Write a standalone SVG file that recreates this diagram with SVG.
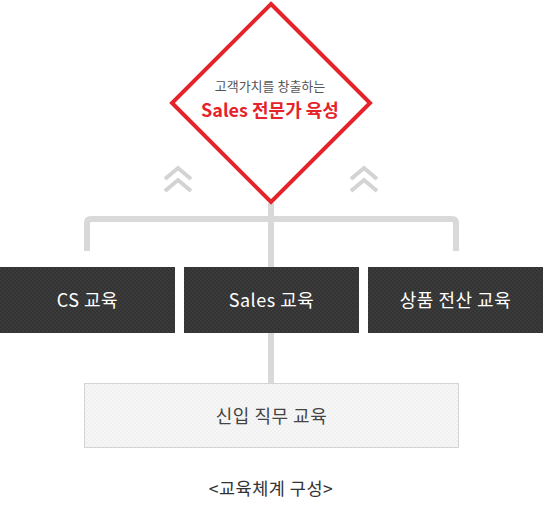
<svg xmlns="http://www.w3.org/2000/svg" width="543" height="524" viewBox="0 0 543 524">
<style>
.conn{stroke:#d9d9d9;stroke-width:6;fill:none}
.chev{stroke:#d3d3d3;stroke-width:4;fill:none;stroke-linejoin:miter}
.dark{fill:url(#darkPat)}
.wt{font-family:"Noto Sans CJK KR","Noto Sans",sans-serif;font-size:18px;letter-spacing:0.5px;fill:#ffffff;text-anchor:middle}
.gt{font-family:"Noto Sans CJK KR","Noto Sans",sans-serif;text-anchor:middle}
</style>
<defs>
<pattern id="darkPat" width="4" height="4" patternUnits="userSpaceOnUse">
<rect width="4" height="4" fill="#333333"/>
<rect width="2" height="2" fill="#3b3b3b"/>
<rect x="2" y="2" width="2" height="2" fill="#3b3b3b"/>
</pattern>
<pattern id="lightPat" width="4" height="4" patternUnits="userSpaceOnUse">
<rect width="4" height="4" fill="#f7f7f7"/>
<rect width="2" height="2" fill="#f0f0f0"/>
<rect x="2" y="2" width="2" height="2" fill="#f0f0f0"/>
</pattern>
</defs>
<g id="connectors">
<path class="conn" d="M271,203 V384"/>
<path class="conn" d="M87,251 V223 Q87,219 91,219 H452 Q456,219 456,223 V251"/>
<polyline class="chev" points="165,179 178,168 191,179"/>
<polyline class="chev" points="165,191 178,180 191,191"/>
<polyline class="chev" points="351,179 364,168 377,179"/>
<polyline class="chev" points="351,191 364,180 377,191"/>
</g>
<g id="goal">
<polygon points="271,4 370,103 271,202 172,103" fill="#ffffff" stroke="#e5232b" stroke-width="4"/>
<text class="gt" x="270" y="91" font-size="13" fill="#555555">고객가치를 창출하는</text>
<text class="gt" x="270" y="117" font-size="18" font-weight="bold" fill="#e5232b">Sales 전문가 육성</text>
</g>
<g id="cs">
<rect class="dark" x="0" y="267" width="175" height="66"/>
<text class="wt" x="87.5" y="307">CS 교육</text>
</g>
<g id="sales">
<rect class="dark" x="184" y="267" width="175" height="66"/>
<text class="wt" x="271.5" y="307">Sales 교육</text>
</g>
<g id="product">
<rect class="dark" x="368" y="267" width="175" height="66"/>
<text class="wt" x="455.5" y="307">상품 전산 교육</text>
</g>
<g id="newhire">
<rect x="84.5" y="383.5" width="374" height="64" fill="url(#lightPat)" stroke="#d4d4d4" stroke-width="1"/>
<text class="gt" x="271.5" y="423" font-size="18" letter-spacing="0.5" fill="#444444">신입 직무 교육</text>
</g>
<text class="gt" x="271" y="495" font-size="17.5" letter-spacing="0.5" fill="#333333">&lt;교육체계 구성&gt;</text>
</svg>
